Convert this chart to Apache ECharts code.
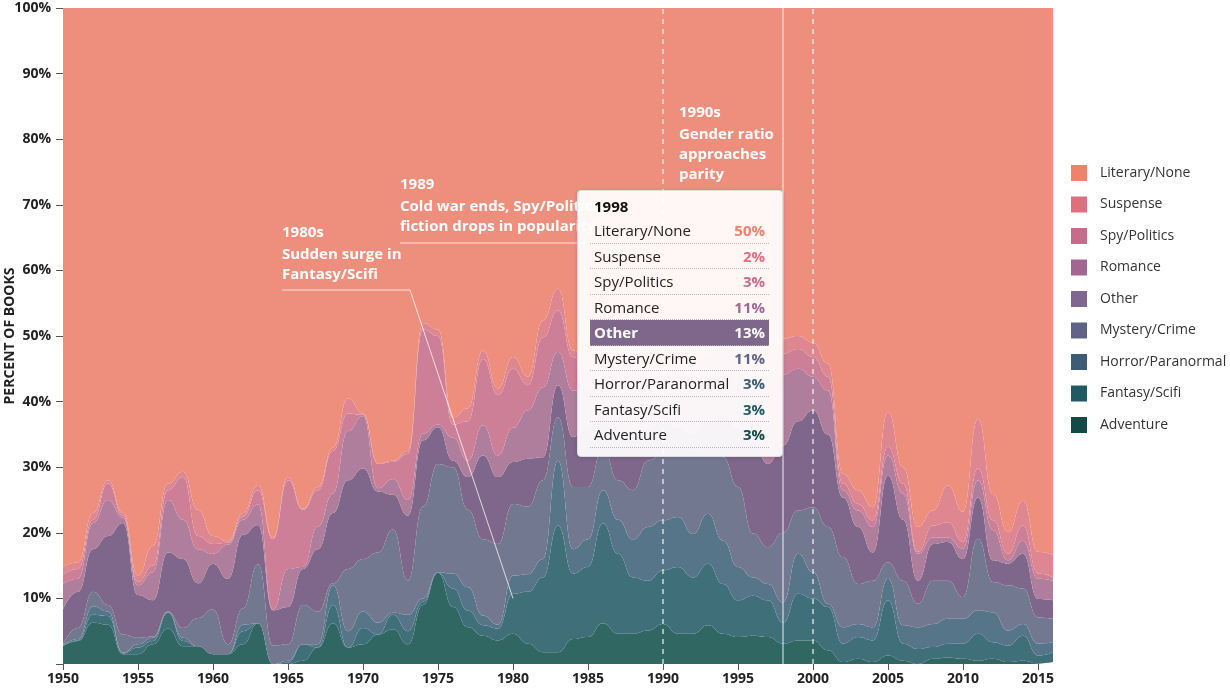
<!DOCTYPE html>
<html>
<head>
<meta charset="utf-8">
<title>Share of books by genre, 1950-2016</title>
<script src="https://cdn.jsdelivr.net/npm/echarts@6/dist/echarts.min.js"></script>
<style>
  html, body { margin: 0; padding: 0; background: #ffffff; }
  #chart { width: 1230px; height: 694px; }
</style>
</head>
<body>
<div id="chart"></div>
<script>
var years = [1950, 1951, 1952, 1953, 1954, 1955, 1956, 1957, 1958, 1959,
  1960, 1961, 1962, 1963, 1964, 1965, 1966, 1967, 1968, 1969,
  1970, 1971, 1972, 1973, 1974, 1975, 1976, 1977, 1978, 1979,
  1980, 1981, 1982, 1983, 1984, 1985, 1986, 1987, 1988, 1989,
  1990, 1991, 1992, 1993, 1994, 1995, 1996, 1997, 1998, 1999,
  2000, 2001, 2002, 2003, 2004, 2005, 2006, 2007, 2008, 2009,
  2010, 2011, 2012, 2013, 2014, 2015, 2016];

// percent of books per genre and year (stacked bottom to top)
var adventure = [2.7, 3.5, 6.3, 6.0, 1.5, 1.5, 3.0, 5.4, 2.7, 2.7,
  1.5, 1.5, 3.0, 6.2, 0, 0, 0.5, 2.5, 6.2, 2.5,
  3.0, 4.5, 5.3, 3.0, 9.0, 13.9, 8.7, 5.6, 4.3, 3.6,
  4.6, 3.1, 1.8, 1.8, 3.8, 4.1, 6.2, 4.6, 4.6, 5.1,
  6.1, 4.6, 4.6, 5.9, 4.6, 4.1, 4.3, 4.1, 3.1, 3.6,
  3.6, 2.1, 0.3, 0.8, 0.3, 1.3, 0.5, 0, 0.8, 1.0,
  0.8, 0.5, 0.8, 0.3, 0.5, 0.1, 0.3];
var fantasy = [0.1, 0.1, 1.2, 1.3, 0.1, 1.0, 0.5, 2.4, 0.8, 0,
  0, 0, 2.0, 0, 0, 0.2, 2.5, 0, 2.8, 0,
  2.5, 0, 2.2, 2.0, 0.5, 0, 2.8, 2.5, 1.6, 1.8,
  6.1, 7.9, 11.4, 19.3, 10.0, 10.7, 15.2, 12.2, 8.6, 7.6,
  8.2, 10.2, 8.6, 9.4, 7.6, 5.6, 6.1, 5.6, 3.2, 7.1,
  6.4, 6.6, 2.8, 3.3, 3.3, 8.4, 2.6, 2.3, 1.8, 2.1,
  2.3, 4.1, 2.5, 2.5, 3.8, 1.2, 1.5];
var horror = [0.1, 0.2, 1.3, 0.7, 0.1, 0.5, 0.5, 0.1, 0.5, 0,
  0, 0, 1.0, 0, 0, 0.3, 0, 0.5, 3.0, 2.5,
  2.5, 1.8, 0.3, 2.5, 0.5, 0.1, 2.3, 3.6, 1.5, 0.6,
  2.8, 2.7, 2.8, 9.9, 3.7, 4.2, 5.1, 5.2, 5.8, 8.2,
  7.6, 7.6, 6.6, 7.6, 6.6, 5.1, 2.8, 2.5, 3.1, 6.1,
  4.0, 0.5, 2.5, 2.0, 2.0, 3.3, 2.8, 3.3, 3.5, 3.8,
  3.8, 3.6, 4.6, 2.3, 1.8, 1.8, 1.5];
var mystery = [0.1, 1.7, 2.2, 1.0, 2.8, 1.0, 0.2, 0.1, 1.5, 4.3,
  6.8, 1.5, 2.5, 9.0, 2.8, 2.5, 6.0, 5.0, 0.3, 9.5,
  8.0, 10.7, 12.7, 5.2, 14.0, 16.5, 16.2, 11.8, 11.6, 12.3,
  10.9, 10.3, 12.0, 6.6, 9.5, 8.0, 6.5, 6.0, 7.5, 10.1,
  10.1, 10.6, 12.7, 10.1, 12.7, 12.2, 6.7, 5.6, 10.6, 6.6,
  9.9, 11.7, 10.7, 6.1, 7.1, 2.5, 6.8, 3.6, 6.6, 5.8,
  3.3, 10.9, 4.6, 6.9, 5.4, 4.0, 3.6];
var other = [5.3, 5.5, 6.5, 10.5, 17.0, 6.5, 5.5, 9.0, 10.5, 5.3,
  7.0, 10.0, 11.2, 6.0, 5.4, 5.7, 5.5, 9.5, 10.7, 13.5,
  13.8, 9.3, 5.3, 9.9, 10.1, 5.6, 1.0, 5.0, 12.8, 10.2,
  6.4, 7.3, 3.5, 4.9, 7.6, 9.0, 5.0, 7.0, 7.5, 5.0,
  5.0, 3.0, 2.5, 4.0, 6.5, 9.0, 14.1, 12.7, 13.3, 13.6,
  14.8, 14.1, 9.1, 8.7, 4.3, 13.2, 9.3, 3.5, 5.6, 5.9,
  5.8, 6.3, 3.3, 3.3, 5.3, 2.8, 2.8];
var romance = [3.9, 2.0, 4.0, 5.5, 0.8, 1.5, 4.3, 8.0, 6.0, 5.2,
  1.5, 5.2, 2.3, 3.1, 0.1, 5.8, 0.3, 3.5, 3.0, 7.5,
  8.0, 0.5, 2.4, 2.4, 1.0, 0.4, 3.5, 2.5, 4.6, 3.3,
  5.2, 7.4, 10.7, 5.1, 7.1, 6.0, 6.0, 6.0, 9.0, 6.0,
  4.0, 7.0, 7.0, 7.0, 7.0, 7.0, 6.0, 5.5, 10.8, 8.0,
  5.1, 6.7, 1.1, 2.5, 3.9, 3.1, 4.0, 4.1, 1.0, 0.7,
  1.6, 2.6, 4.6, 0.5, 2.0, 3.1, 3.0];
var spy = [1.5, 1.5, 0.5, 2.5, 0.3, 0.5, 1.0, 1.5, 6.5, 2.0,
  1.5, 0.3, 0.5, 2.2, 10.7, 13.5, 8.7, 5.5, 6.5, 2.7,
  0.2, 3.7, 2.6, 7.0, 15.9, 13.5, 2.0, 6.0, 10.1, 9.2,
  9.0, 3.8, 7.6, 6.3, 5.1, 3.0, 4.0, 4.0, 5.0, 3.0,
  3.0, 3.0, 2.0, 3.0, 4.0, 3.0, 4.0, 8.0, 3.2, 3.0,
  3.0, 2.1, 1.0, 1.0, 1.0, 1.3, 1.5, 0.3, 1.8, 2.3,
  1.0, 1.8, 1.5, 1.0, 2.3, 0.8, 0.5];
var suspense = [1.1, 1.0, 1.0, 0.5, 0.4, 1.0, 3.0, 1.0, 0.8, 4.0,
  1.2, 0.2, 0.5, 0.8, 0.2, 0.5, 0.2, 0.5, 0.5, 2.3,
  0.2, 0.1, 0.2, 0.5, 1.0, 1.0, 1.1, 2.0, 1.3, 1.0,
  1.8, 1.3, 2.6, 3.3, 1.0, 1.0, 1.0, 2.0, 2.0, 2.0,
  1.0, 2.0, 2.0, 2.0, 2.0, 2.0, 2.0, 3.0, 2.3, 2.0,
  2.2, 2.0, 1.5, 2.1, 2.0, 5.3, 2.5, 3.8, 2.3, 5.6,
  4.6, 7.6, 4.0, 3.3, 3.8, 3.3, 3.4];
var literary = [85.2, 84.5, 77.0, 72.0, 77.0, 86.5, 82.0, 72.5, 70.7, 76.5,
  80.5, 81.3, 77.0, 72.7, 80.8, 71.5, 76.3, 73.0, 67.0, 59.5,
  61.8, 69.4, 69.0, 67.5, 48.0, 49.0, 62.4, 61.0, 52.2, 58.0,
  53.2, 56.2, 47.6, 42.8, 52.2, 54.0, 51.0, 53.0, 50.0, 53.0,
  55.0, 52.0, 54.0, 51.0, 49.0, 52.0, 54.0, 53.0, 50.4, 50.0,
  51.0, 54.2, 71.0, 73.5, 76.1, 61.6, 70.0, 79.1, 76.6, 72.8,
  76.8, 62.6, 74.1, 79.9, 75.1, 82.9, 83.4];

var genres = ["Adventure", "Fantasy/Scifi", "Horror/Paranormal", "Mystery/Crime", "Other",
  "Romance", "Spy/Politics", "Suspense", "Literary/None"];
var genreValues = [adventure, fantasy, horror, mystery, other, romance, spy, suspense, literary];
var legendColors = ["#134a48", "#225a63", "#3e5c75", "#5e6387", "#806790",
  "#a26790", "#c66b8a", "#dd6f7e", "#f0826c"];
var areaColors = ["#306763", "#3f6f79", "#567588", "#737891", "#7f668b",
  "#b07e9d", "#cc7f97", "#df8790", "#ee8f7e"];

var hoverYear = "1998";
var highlightGenre = "Other";
var font = "'Open Sans', Roboto, sans-serif";

var chart = echarts.init(document.getElementById("chart"));

var series = genres.map(function (name, i) {
  var s = {
    name: name,
    type: "line",
    stack: "all",
    smooth: 0.5,
    smoothMonotone: "x",
    showSymbol: false,
    symbol: "none",
    color: legendColors[i],
    lineStyle: { width: 0 },
    areaStyle: { color: areaColors[i], opacity: 1 },
    emphasis: { disabled: true },
    data: genreValues[i]
  };
  if (name === "Literary/None") {
    s.markLine = {
      silent: true,
      symbol: "none",
      label: { show: false },
      lineStyle: { color: "rgba(255,255,255,0.75)", width: 1.5, type: [5, 5] },
      data: [{ xAxis: "1990" }, { xAxis: "2000" }]
    };
  }
  return s;
});

function tooltipHtml(params) {
  var byName = {};
  params.forEach(function (p) { byName[p.seriesName] = p; });
  var html = '<div style="font-weight:bold;font-size:15px;line-height:18px;color:#111;padding:0 4px;margin-bottom:3px">' +
    params[0].axisValue + '</div>';
  for (var i = genres.length - 1; i >= 0; i--) {
    var name = genres[i];
    var hi = name === highlightGenre;
    html += '<div style="display:flex;justify-content:space-between;height:25.5px;line-height:25px;' +
      'padding:0 4px;box-sizing:border-box;border-bottom:1px dotted #b5b5b5;' +
      (hi ? 'background:' + areaColors[i] + ';color:#fff;font-weight:bold;' : 'color:#222;') + '">' +
      '<span>' + name + '</span>' +
      '<span style="font-weight:bold;color:' + (hi ? '#fff' : legendColors[i]) + '">' +
      Math.round(byName[name].value) + '%</span></div>';
  }
  return html;
}

var option = {
  animation: false,
  textStyle: { fontFamily: font },
  grid: { left: 63, right: 177, top: 8, bottom: 30, containLabel: false, outerBoundsMode: "none" },
  tooltip: {
    trigger: "axis",
    triggerOn: "none",
    alwaysShowContent: true,
    transitionDuration: 0,
    position: [577, 190],
    backgroundColor: "rgba(255,255,255,0.93)",
    borderColor: "#dddddd",
    borderWidth: 1,
    padding: [6, 13, 8, 12],
    textStyle: { fontFamily: font, fontSize: 15, color: "#222" },
    extraCssText: "box-shadow:0 1px 4px rgba(0,0,0,0.15);border-radius:4px;width:206px;box-sizing:border-box;",
    axisPointer: {
      type: "line",
      animation: false,
      lineStyle: { color: "rgba(255,255,255,0.6)", width: 1.5, type: "solid" }
    },
    formatter: tooltipHtml
  },
  legend: {
    orient: "vertical",
    left: 1071,
    top: 165,
    padding: 0,
    itemWidth: 16,
    itemHeight: 16,
    itemGap: 15.5,
    icon: "rect",
    selectedMode: false,
    textStyle: { fontSize: 14, color: "#333", fontFamily: font, padding: [0, 0, 0, 8] },
    data: genres.slice().reverse().map(function (name) {
      return { name: name, itemStyle: { color: legendColors[genres.indexOf(name)] } };
    })
  },
  xAxis: {
    type: "category",
    boundaryGap: false,
    data: years.map(String),
    axisLine: { show: false },
    axisTick: { show: true, interval: 4, length: 6, lineStyle: { color: "#555" } },
    axisLabel: { interval: 4, margin: 8, fontSize: 14, fontWeight: "bold", color: "#222" },
    splitLine: { show: false }
  },
  yAxis: {
    type: "value",
    min: 0,
    max: 100,
    interval: 10,
    name: "PERCENT OF BOOKS",
    nameLocation: "middle",
    nameRotate: 90,
    nameGap: 46,
    nameMoveOverlap: false,
    nameTextStyle: { fontSize: 14, fontWeight: "bold", color: "#222" },
    axisLine: { show: false },
    axisTick: { show: true, length: 7, lineStyle: { color: "#555" } },
    axisLabel: {
      margin: 12,
      fontSize: 14,
      fontWeight: "bold",
      color: "#222",
      formatter: function (v) { return v === 0 ? "" : v + "%"; }
    },
    splitLine: { show: false }
  },
  series: series
};

chart.setOption(option);

// annotations: text placed in the empty top band, pointer lines tied to data coordinates
var p1980 = chart.convertToPixel({ gridIndex: 0 }, ["1980", 10]);
var p1989 = chart.convertToPixel({ gridIndex: 0 }, ["1989", 60]);
var noteTitle = { fill: "#fff", font: "bold 15px " + font };
var noteBody = { fill: "#fff", font: "bold 15px " + font, lineHeight: 20 };
var noteLine = { stroke: "rgba(255,255,255,0.75)", lineWidth: 1, fill: null };

chart.setOption({
  graphic: [
    { type: "text", z: 100, left: 282, top: 225, silent: true, style: Object.assign({ text: "1980s" }, noteTitle) },
    { type: "text", z: 100, left: 282, top: 245, silent: true, style: Object.assign({ text: "Sudden surge in\nFantasy/Scifi" }, noteBody) },
    { type: "polyline", z: 100, silent: true, shape: { points: [[282, 290], [410, 290], [p1980[0], p1980[1]]] }, style: noteLine },
    { type: "text", z: 100, left: 400, top: 177, silent: true, style: Object.assign({ text: "1989" }, noteTitle) },
    { type: "text", z: 100, left: 400, top: 197, silent: true, style: Object.assign({ text: "Cold war ends, Spy/Politics\nfiction drops in popularity" }, noteBody) },
    { type: "polyline", z: 100, silent: true, shape: { points: [[400, 243], [p1989[0], 243]] }, style: noteLine },
    { type: "text", z: 100, left: 679, top: 105, silent: true, style: Object.assign({ text: "1990s" }, noteTitle) },
    { type: "text", z: 100, left: 679, top: 125, silent: true, style: Object.assign({ text: "Gender ratio\napproaches\nparity" }, noteBody) }
  ]
});

chart.dispatchAction({ type: "showTip", seriesIndex: 0, dataIndex: years.indexOf(Number(hoverYear)) });

window.onresize = function () {
  chart.resize();
};
</script>
</body>
</html>
